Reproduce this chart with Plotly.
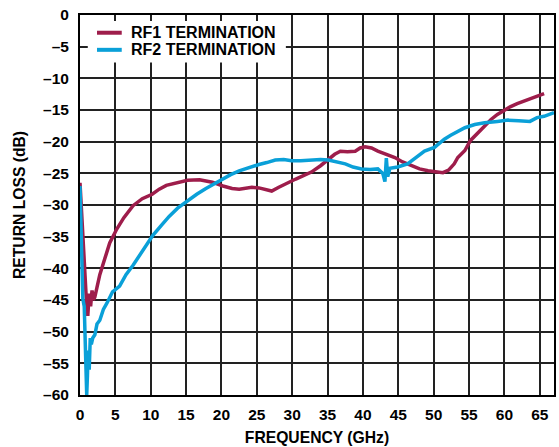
import plotly.graph_objects as go

rf1_freq = [0, 0.3, 0.6, 0.9, 1.1, 1.3, 1.5, 1.7, 1.9, 2.1, 2.4, 2.8, 3.5, 4.2, 5.2, 6.2, 7.5, 8.8,
            10.2, 11.2, 12.2, 13.5, 15.2, 16.9, 18.7, 20.2, 21.5, 22.5, 23.5, 24.3, 25.3, 26.3, 27.1,
            28.1, 29.3, 30.5, 31.5, 32.7, 34, 35.1, 36, 36.8, 37.8, 38.9, 39.6, 40.3, 41.2, 42.1,
            43.3, 44.5, 45.6, 46.8, 48, 49.2, 50.2, 51.3, 52.1, 52.9, 53.4, 54.4, 55.2, 56.2, 57.2,
            58.1, 59.0, 60.0, 60.8, 61.8, 62.8, 63.8, 64.6, 65.6]
rf1_rl = [-26.5, -33, -40, -45, -47.5, -44, -46, -43.5, -45, -44.5, -43, -41, -38.5, -36, -33.8, -32,
          -30.1, -29, -28.3, -27.5, -26.9, -26.5, -26.1, -26.0, -26.4, -27.0, -27.4, -27.5, -27.3,
          -27.2, -27.3, -27.6, -27.8, -27.2, -26.5, -25.9, -25.4, -24.8, -23.8, -22.8, -22.0, -21.5,
          -21.6, -21.5, -21.0, -20.8, -21.0, -21.5, -22.0, -22.5, -23.2, -23.8, -24.3, -24.6, -24.8,
          -24.9, -24.5, -23.5, -22.5, -21.4, -19.8, -18.6, -17.6, -16.5, -15.7, -15.0, -14.5, -14.0,
          -13.6, -13.1, -12.8, -12.4]

rf2_freq = [0, 0.2, 0.4, 0.6, 0.8, 0.95, 1.05, 1.15, 1.3, 1.45, 1.6, 1.8, 2.1, 2.4, 2.8, 3.3, 3.8,
            4.2, 4.6, 5.6, 6.5, 7.5, 8.5, 9.4, 10.3, 11.5, 12.6, 13.8, 15.2, 16.5, 17.8, 19, 20.2,
            21.3, 22.5, 23.8, 25.3, 26.4, 27.6, 28.8, 29.9, 31.2, 32.7, 34, 35.1, 36.3, 37.5, 38.6,
            39.8, 41, 42.1, 42.8, 43.1, 43.3, 43.5, 43.8, 44.9, 46.3, 47.8, 48.7, 50.1, 51.5, 52.4,
            53.8, 54.4, 55.8, 57.2, 59, 60.5, 62, 63.6, 64.6, 65.6, 67]
rf2_rl = [-27, -36, -44.8, -46, -52, -60, -57, -53, -56, -51, -52, -51, -50.5, -48.8, -48.2, -46.5,
          -45.5, -44.5, -43.7, -42.8, -41, -39.5, -37.8, -36.2, -34.8, -33.2, -31.8, -30.5, -29.3,
          -28.3, -27.4, -26.6, -25.9, -25.2, -24.6, -24.1, -23.6, -23.3, -22.9, -22.8, -23.0, -23.0,
          -22.9, -22.8, -22.9, -23.2, -23.5, -24.0, -24.3, -24.4, -24.3, -25.0, -26.3, -22.6, -25.5,
          -24.2, -24.0, -23.5, -22.3, -21.5, -20.9, -19.6, -19.0, -18.1, -17.8, -17.3, -17.0, -16.8,
          -16.6, -16.7, -16.8, -16.2, -16.0, -15.4]

series_names = ["RF1 TERMINATION", "RF2 TERMINATION"]
series_colors = ["#9E1D4B", "#0AA0D8"]

x_ticks = list(range(0, 66, 5))
y_ticks = list(range(-60, 1, 5))
y_labels = [("–" + str(-v)) if v < 0 else str(v) for v in y_ticks]

font = "Liberation Sans, Arial, sans-serif"

fig = go.Figure()
for xs, ys, name, color in zip([rf1_freq, rf2_freq], [rf1_rl, rf2_rl], series_names, series_colors):
    fig.add_trace(go.Scatter(x=xs, y=ys, mode="lines", name=name,
                             line=dict(color=color, width=3.5), showlegend=False))

# Legend drawn manually (white box covering the grid, sample lines, labels)
shapes = [dict(type="rect", xref="x", yref="y", x0=1.1, x1=29.1, y0=-7.5, y1=-0.95,
               fillcolor="white", line=dict(width=0), layer="above")]
annotations = []
legend_rows = [-2.8, -5.5]
for row_y, name, color in zip(legend_rows, series_names, series_colors):
    shapes.append(dict(type="line", xref="x", yref="y", x0=2.4, x1=5.9, y0=row_y, y1=row_y,
                       line=dict(color=color, width=4), layer="above"))
    annotations.append(dict(x=6.9, y=row_y, xref="x", yref="y", text=name, showarrow=False,
                            xanchor="left", yanchor="middle",
                            font=dict(family=font, size=16, color="black", weight="bold")))

fig.update_layout(
    width=559, height=447,
    margin=dict(l=80, r=3, t=15, b=50),
    paper_bgcolor="white", plot_bgcolor="white",
    font=dict(family=font, size=16, color="black"),
    shapes=shapes, annotations=annotations,
    xaxis=dict(range=[0, 67], tickvals=x_ticks, ticktext=[str(v) for v in x_ticks],
               showgrid=True, gridcolor="#222222", gridwidth=1.6,
               showline=True, linecolor="black", linewidth=2, mirror=True,
               ticks="", zeroline=False, ticklabelstandoff=4,
               tickfont=dict(family=font, size=15.5, weight="bold"),
               title=dict(text="FREQUENCY (GHz)", font=dict(family=font, size=15.7, weight="bold"),
                          standoff=10)),
    yaxis=dict(range=[-60, 0], tickvals=y_ticks, ticktext=y_labels,
               showgrid=True, gridcolor="#222222", gridwidth=1.6,
               showline=True, linecolor="black", linewidth=2, mirror=True,
               ticks="", zeroline=False, ticklabelstandoff=6,
               tickfont=dict(family=font, size=15.5, weight="bold"),
               title=dict(text="RETURN LOSS (dB)", font=dict(family=font, size=15.7, weight="bold"),
                          standoff=14)),
)

fig.write_html("out.html", config={"displayModeBar": False},
               post_script="document.body.style.margin='0';document.body.style.overflow='hidden';")
